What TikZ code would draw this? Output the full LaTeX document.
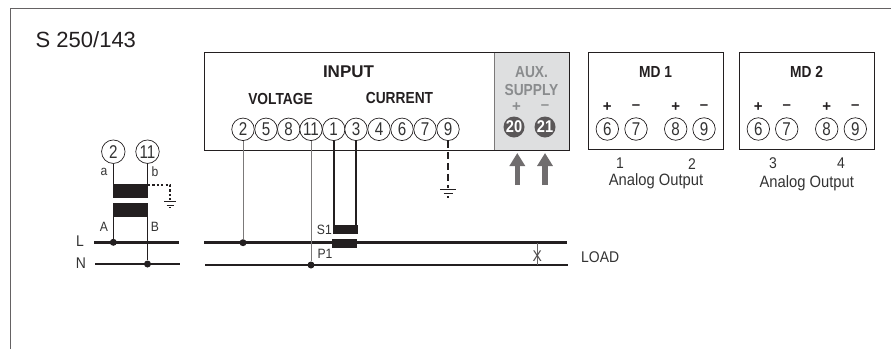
\documentclass[tikz,border=0pt]{standalone}
\usepackage{fontspec}
\setmainfont{Liberation Sans}
\newfontfamily\cond[FakeStretch=0.9]{Liberation Sans}
\newfontfamily\tcond[FakeStretch=0.82]{Liberation Sans}
\newfontfamily\condb[FakeStretch=0.86]{Liberation Sans Bold}
\usetikzlibrary{arrows.meta}
\definecolor{ink}{HTML}{231F20}
\definecolor{txt}{HTML}{333333}
\definecolor{auxfill}{HTML}{DEDFE0}
\definecolor{auxtxt}{HTML}{8A8C8E}
\tikzset{
 x=1pt,y=-1pt,
 boxst/.style={draw=ink,line width=1pt,inner sep=0pt},
 term/.style={circle,draw=ink,line width=.7pt,fill=white,minimum size=22.5pt,inner sep=0pt,font=\tcond\fontsize{18.5}{18.5}\selectfont,text=txt},
 auxterm/.style={circle,fill=ink!75,minimum size=21pt,inner sep=0pt,font=\condb\fontsize{17}{17}\selectfont,text=white},
 lab/.style={inner sep=0pt,font=\cond\fontsize{15.5}{15.5}\selectfont,text=txt},
 aout/.style={inner sep=0pt,font=\cond\fontsize{16.4}{16.4}\selectfont,text=txt},
 small/.style={inner sep=0pt,font=\cond\fontsize{13.5}{13.5}\selectfont,text=txt},
 head/.style={inner sep=0pt,font=\condb\fontsize{16}{16}\selectfont,text=ink},
 sign/.style={inner sep=0pt,font=\bfseries\fontsize{15}{15}\selectfont,text=ink},
 thin wire/.style={draw=ink!60,line width=.9pt},
 wire/.style={draw=ink,line width=1pt},
 bus/.style={draw=ink,line width=2.7pt},
 heavy/.style={draw=ink,line width=2pt},
 core/.style={fill=ink,draw=none,inner sep=0pt},
 dot/.style={circle,fill=ink,minimum size=7pt,inner sep=0pt},
 fat arrow/.style={draw=ink!65,line width=5.5pt,-{Triangle[length=13pt,width=15pt]}},
}
\begin{document}
\begin{tikzpicture}
\useasboundingbox (0,0) rectangle (891,349);
% frame
\draw[draw=ink!70,line width=.8pt] (10.5,349) -- (10.5,8) -- (891,8);
\node[anchor=west,inner sep=0pt,font=\fontsize{22}{22}\selectfont,text=ink] (title) at (35.5,40) {S 250/143};
% boxes
\fill[auxfill] (494,52.5) rectangle (569.5,150);
\draw[boxst] (204.7,52.5) rectangle (569.5,150);
\draw[draw=ink!60,line width=1pt] (494,52.5) -- (494,150);
\draw[boxst] (588.3,52.7) rectangle (723.3,149);
\draw[boxst] (739.3,52.7) rectangle (874.3,149);
% headings
\node[head,font=\bfseries\fontsize{17}{17}\selectfont] (input) at (348.5,72) {INPUT};
\node[head] (volt) at (280.5,98.5) {VOLTAGE};
\node[head] (curr) at (399.5,97.5) {CURRENT};
\node[head,text=auxtxt] (aux) at (531.5,72) {AUX.};
\node[head,text=auxtxt] (sup) at (531.5,90) {SUPPLY};
\node[sign,text=auxtxt] (ap) at (516.5,107) {+};
\node[sign,text=auxtxt] (am) at (545,107) {–};
\node[head] (md1) at (655.5,72) {MD 1};
\node[head] (md2) at (806.5,72) {MD 2};
% input terminals
\foreach \n/\t/\x in {i2/2/243,i5/5/266,i8/8/288.7,i11/11/311,i1/1/333.7,i3/3/356,i4/4/379,i6/6/402,i7/7/425,i9/9/448}
  \node[term] (\n) at (\x,129.3) {\t};
% aux
\node[auxterm] (a20) at (514,127) {20};
\node[auxterm] (a21) at (545,127) {21};
% MD terminals
\foreach \n/\t/\x in {ma6/6/607.3,ma7/7/636,ma8/8/675.7,ma9/9/704,mb6/6/758.3,mb7/7/786.7,mb8/8/826.7,mb9/9/855.3}
  \node[term] (\n) at (\x,129) {\t};
\foreach \x/\s in {607.3/+,636/–,675.7/+,704/–,758.3/+,786.7/–,826.7/+,855.3/–}
  \node[sign] at (\x,107.5) {\s};
\node[lab] (n1) at (620,163) {1};
\node[lab] (n2) at (692,164) {2};
\node[aout] (ao1) at (656,181.7) {Analog Output};
\node[lab] (n3) at (773,163) {3};
\node[lab] (n4) at (841,163) {4};
\node[aout] (ao2) at (806.7,183) {Analog Output};
% supply arrows
\coordinate (ab1) at (517.3,185); \coordinate (at1) at (517.3,153);
\coordinate (ab2) at (545,185);   \coordinate (at2) at (545,153);
\draw[fat arrow] (ab1) -- (at1);
\draw[fat arrow] (ab2) -- (at2);
% left transformer
\node[term,minimum size=23.5pt] (v2) at (113.3,151.7) {2};
\node[term,minimum size=23.5pt] (v11) at (147.5,151.7) {11};
\node[core,minimum width=35.5pt,minimum height=14pt] (cu) at (130.3,191) {};
\node[core,minimum width=35.5pt,minimum height=14pt] (cl) at (130.3,209.8) {};
\node[small] at (104,172) {a};
\node[small] at (155,172) {b};
\node[small] at (104,226.5) {A};
\node[small] at (155,226.5) {B};
\node[lab] at (80,241.5) {L};
\node[lab] at (81,263) {N};
\coordinate (l1) at (94,242.3); \coordinate (l2) at (179,242.3);
\coordinate (n1a) at (95,264); \coordinate (n2a) at (180,264);
\draw[bus] (l1) -- (l2);
\draw[bus] (n1a) -- (n2a);
\node[dot] (dl) at (113.3,242.3) {};
\node[dot] (dn) at (147.5,264) {};
\draw[wire] (v2.south) -- (113.3,184);
\draw[wire] (113.3,217) -- (dl);
\draw[wire] (v11.south) -- (147.5,184);
\draw[wire] (147.5,217) -- (dn);
% dotted earth
\coordinate (e1) at (148,185); \coordinate (e2) at (170,185); \coordinate (e3) at (170,201);
\draw[draw=ink,line width=1.1pt,dash pattern=on 2.2pt off 2.2pt] (e1) -- (e2) -- (e3);
\draw[draw=ink,line width=.9pt] (164,201.8) -- (176,201.8) (166.5,205) -- (173.5,205) (168.8,207.8) -- (171.2,207.8);
% main lines
\coordinate (L1) at (204,242.7); \coordinate (L2) at (567,242.7);
\coordinate (N1) at (205,265); \coordinate (N2) at (567.5,265);
\draw[bus] (L1) -- (L2);
\draw[bus] (N1) -- (N2);
\node[dot] (dL) at (243,242.7) {};
\node[dot] (dN) at (311,265) {};
\draw[thin wire] (i2.south) -- (dL);
\draw[thin wire] (i11.south) -- (dN);
\node[core,minimum width=25pt,minimum height=9.5pt] (s1) at (345.7,229.5) {};
\node[core,minimum width=25pt,minimum height=9.5pt] (p1) at (344.7,243.5) {};
\draw[heavy] (i1.south) -- (333.7,226);
\draw[heavy] (i3.south) -- (356,226);
\node[small,anchor=east] at (332,229.5) {S1};
\node[small] at (325,254) {P1};
% earth of terminal 9
\coordinate (g1) at (448,188);
\draw[draw=ink,line width=2pt,dash pattern=on 7pt off 4pt] (i9.south) -- (g1);
\draw[draw=ink,line width=1.3pt] (440,189.3) -- (456,189.3);
\draw[draw=ink,line width=1.2pt] (443.5,193.5) -- (452.5,193.5);
\draw[draw=ink,line width=1.2pt] (446.8,197) -- (449.2,197);
% X
\draw[draw=ink!70,line width=.8pt] (537.7,243) -- (537.7,265);
\node[lab,text=ink!80] at (537.2,256.5) {X};
\node[anchor=west,inner sep=0pt,font=\cond\fontsize{15.5}{15.5}\selectfont,text=txt] (load) at (581,257.5) {LOAD};
\end{tikzpicture}
\end{document}
